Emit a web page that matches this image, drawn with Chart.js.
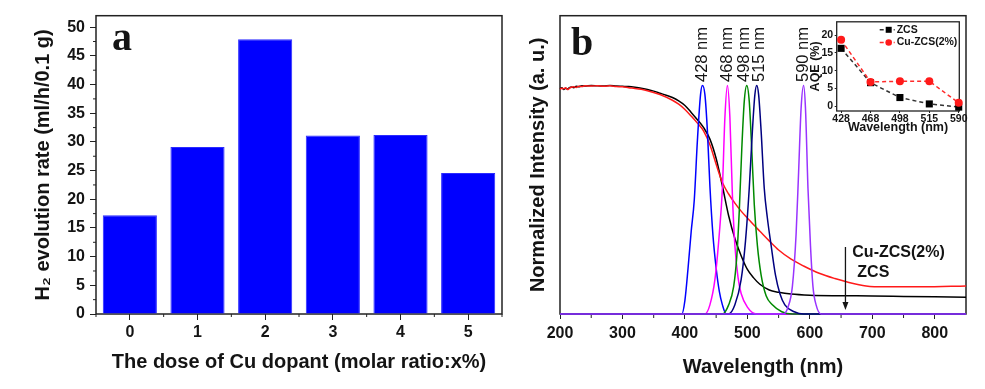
<!DOCTYPE html>
<html>
<head>
<meta charset="utf-8">
<script src="https://cdn.jsdelivr.net/npm/chart.js@4.4.1/dist/chart.umd.min.js"></script>
<style>
    html, body { margin: 0; padding: 0; background: #fff; }
    #wrap { position: relative; width: 985px; height: 389px; overflow: hidden; }
    canvas { position: absolute; }
    #chartA { left: 0; top: 0; }
    #chartB { left: 508px; top: 0; }
    #chartC { left: 790px; top: 14px; }
</style>
</head>
<body>
<div id="wrap">
    <canvas id="chartA" width="508" height="389"></canvas>
    <canvas id="chartB" width="477" height="389"></canvas>
    <canvas id="chartC" width="185" height="126"></canvas>
</div>
<script>
// panel a: H2 evolution vs Cu dose
const doseLabels = ['0', '1', '2', '3', '4', '5'];
const h2Rates = [17.2, 29.1, 47.9, 31.1, 31.2, 24.6];

// panel b: absorption spectra (normalized)
const zcsNm  = [200, 203, 206, 209, 212, 215, 218, 222, 226, 230, 235, 240, 250, 260, 270, 280, 290, 300, 310, 320, 330, 340, 350, 360, 370, 380, 390, 400, 410, 420, 430, 440, 450, 460, 470, 480, 490, 500, 510, 520, 535, 550, 570, 600, 650, 700, 750, 800, 850];
const zcsInt = [0.985, 0.99, 0.982, 0.988, 0.984, 0.99, 0.993, 0.99, 0.996, 0.994, 0.999, 0.997, 1.0, 0.998, 0.997, 1.0, 0.997, 0.996, 0.995, 0.992, 0.988, 0.982, 0.975, 0.966, 0.957, 0.947, 0.932, 0.912, 0.882, 0.85, 0.815, 0.765, 0.68, 0.56, 0.43, 0.33, 0.255, 0.195, 0.158, 0.13, 0.105, 0.095, 0.087, 0.082, 0.08, 0.079, 0.077, 0.075, 0.073];

const cuNm  = [200, 203, 206, 209, 212, 215, 218, 222, 226, 230, 235, 240, 250, 260, 270, 280, 290, 300, 310, 320, 330, 340, 360, 380, 390, 400, 410, 420, 430, 440, 450, 460, 470, 480, 490, 500, 510, 520, 535, 550, 570, 590, 615, 640, 660, 690, 720, 780, 850];
const cuInt = [0.983, 0.988, 0.985, 0.99, 0.982, 0.987, 0.992, 0.994, 0.991, 0.996, 0.995, 0.998, 0.997, 0.999, 0.996, 0.998, 0.995, 0.994, 0.99, 0.987, 0.983, 0.977, 0.96, 0.935, 0.918, 0.895, 0.866, 0.835, 0.8, 0.74, 0.655, 0.575, 0.525, 0.485, 0.45, 0.42, 0.39, 0.362, 0.32, 0.28, 0.24, 0.21, 0.178, 0.155, 0.14, 0.123, 0.119, 0.119, 0.123];

// LED emission spectra
const led428Nm  = [200, 395, 400, 405, 410, 415, 420, 425, 428, 432, 436, 440, 445, 450, 455, 460, 466, 850];
const led428Int = [0, 0, 0.06, 0.2, 0.36, 0.5, 0.76, 0.96, 1.0, 0.96, 0.8, 0.56, 0.34, 0.2, 0.1, 0.04, 0, 0];
const led468Nm  = [200, 432, 440, 448, 455, 460, 464, 468, 472, 476, 480, 485, 490, 500, 515, 850];
const led468Int = [0, 0, 0.04, 0.15, 0.35, 0.55, 0.86, 1.0, 0.86, 0.52, 0.3, 0.16, 0.09, 0.03, 0, 0];
const led498Nm  = [200, 460, 470, 478, 483, 487, 491, 495, 499, 503, 507, 511, 516, 522, 530, 540, 555, 572, 850];
const led498Int = [0, 0, 0.04, 0.12, 0.25, 0.45, 0.72, 0.93, 1.0, 0.93, 0.72, 0.48, 0.3, 0.17, 0.08, 0.04, 0.01, 0, 0];
const led515Nm  = [200, 470, 480, 490, 497, 503, 508, 512, 515, 518, 522, 527, 532, 538, 545, 552, 560, 575, 590, 850];
const led515Int = [0, 0, 0.04, 0.15, 0.32, 0.55, 0.8, 0.96, 1.0, 0.96, 0.8, 0.55, 0.42, 0.3, 0.17, 0.09, 0.04, 0.01, 0, 0];
const led590Nm  = [200, 557, 565, 572, 578, 582, 586, 590, 593, 597, 601, 605, 610, 618, 850];
const led590Int = [0, 0, 0.03, 0.12, 0.35, 0.62, 0.9, 1.0, 0.9, 0.55, 0.3, 0.12, 0.04, 0, 0];

const peakNames = ['428 nm', '468 nm', '498 nm', '515 nm', '590 nm'];

// inset: apparent quantum efficiency
const aqeLabels = ['428', '468', '498', '515', '590'];
const aqeZcs = [16.3, 6.6, 2.4, 0.6, -0.3];
const aqeCu  = [18.7, 6.8, 7.0, 7.0, 0.9];

const SANS = "Arial, 'Liberation Sans', Helvetica, sans-serif";
const SERIF = "'Times New Roman', 'Liberation Serif', serif";
const INK = '#141414';

function pairs(xs, ys)
{
    return xs.map((x, i) => ({ x: x, y: ys[i] }));
}

function placeXY(chart, item)
{
    const a = chart.chartArea;
    if (item.unit === 'area')
    {
        return [a.left + item.x, a.top + item.y];
    }
    return [chart.scales.x.getPixelForValue(item.x), chart.scales.y.getPixelForValue(item.y)];
}

const deco =
{
    id: 'deco',
    beforeDatasetsDraw(chart, args, opts)
    {
        const ctx = chart.ctx;
        const a = chart.chartArea;
        ctx.save();
        ctx.strokeStyle = opts.frameColor || '#222';
        ctx.lineWidth = 1;

        (opts.minorTicks || []).forEach(m =>
        {
            const sc = chart.scales[m.axis];
            m.values.forEach(v =>
            {
                const p = sc.getPixelForValue(v);
                ctx.beginPath();
                if (m.axis === 'x')
                {
                    ctx.moveTo(p, a.bottom);
                    ctx.lineTo(p, a.bottom + m.len);
                }
                else
                {
                    ctx.moveTo(a.left, p);
                    ctx.lineTo(a.left - m.len, p);
                }
                ctx.stroke();
            });
        });

        ctx.lineWidth = opts.frameWidth || 1.5;
        ctx.strokeRect(a.left, a.top, a.width, a.height);
        ctx.restore();
    },
    afterDraw(chart, args, opts)
    {
        const ctx = chart.ctx;
        ctx.save();

        (opts.texts || []).forEach(t =>
        {
            const [px, py] = placeXY(chart, t);
            ctx.save();
            ctx.translate(px, py);
            if (t.angle) ctx.rotate(t.angle);
            ctx.font = t.font;
            ctx.fillStyle = t.color || INK;
            ctx.textAlign = t.align || 'left';
            ctx.textBaseline = t.baseline || 'middle';
            ctx.fillText(t.text, 0, 0);
            ctx.restore();
        });

        (opts.arrows || []).forEach(ar =>
        {
            const x = chart.scales.x.getPixelForValue(ar.x);
            const y0 = chart.scales.y.getPixelForValue(ar.from);
            const y1 = chart.scales.y.getPixelForValue(ar.to);
            ctx.strokeStyle = INK;
            ctx.fillStyle = INK;
            ctx.lineWidth = 1.3;
            ctx.beginPath();
            ctx.moveTo(x, y0);
            ctx.lineTo(x, y1 - 6);
            ctx.stroke();
            ctx.beginPath();
            ctx.moveTo(x, y1);
            ctx.lineTo(x - 3, y1 - 8);
            ctx.lineTo(x + 3, y1 - 8);
            ctx.closePath();
            ctx.fill();
        });

        if (opts.legend)
        {
            const a = chart.chartArea;
            const lg = opts.legend;
            chart.data.datasets.forEach(ds =>
            {
                const row = lg.rows[ds.label];
                const y = a.top + row;
                const mx = a.left + lg.markerX;
                ctx.strokeStyle = ds.borderColor;
                ctx.lineWidth = ds.borderWidth;
                ctx.setLineDash(ds.borderDash || []);
                ctx.beginPath();
                ctx.moveTo(mx - 9, y);
                ctx.lineTo(mx + 6, y);
                ctx.stroke();
                ctx.setLineDash([]);
                ctx.fillStyle = ds.pointBackgroundColor;
                if (ds.pointStyle === 'rect')
                {
                    ctx.fillRect(mx - 3, y - 3, 6, 6);
                }
                else
                {
                    ctx.beginPath();
                    ctx.arc(mx, y, 3.3, 0, Math.PI * 2);
                    ctx.fill();
                }
                ctx.font = lg.font;
                ctx.fillStyle = INK;
                ctx.textAlign = 'left';
                ctx.textBaseline = 'middle';
                ctx.fillText(ds.label, a.left + lg.textX, y);
            });
        }
        ctx.restore();
    }
};

function halfSteps(from, to, step)
{
    const out = [];
    for (let v = from + step / 2; v < to; v += step) out.push(v);
    return out;
}

// ---------------- panel a ----------------
new Chart(document.getElementById('chartA'),
{
    type: 'bar',
    data:
    {
        labels: doseLabels,
        datasets:
        [{
            data: h2Rates,
            backgroundColor: '#0000ff',
            borderColor: '#2b2bff',
            borderWidth: 1,
            categoryPercentage: 0.8,
            barPercentage: 1.0
        }]
    },
    options:
    {
        responsive: false,
        animation: false,
        layout: { padding: { left: 0, top: 15.7, right: 6, bottom: 0 } },
        plugins:
        {
            legend: { display: false },
            tooltip: { enabled: false },
            deco:
            {
                minorTicks:
                [
                    { axis: 'y', values: halfSteps(0, 52, 5), len: 3 },
                    { axis: 'x', values: [-0.5, 0.5, 1.5, 2.5, 3.5, 4.5, 5.5], len: 3 }
                ],
                texts:
                [
                    { text: 'a', unit: 'area', x: 16, y: 34, font: 'bold 40px ' + SERIF, baseline: 'alphabetic' }
                ]
            }
        },
        scales:
        {
            x:
            {
                grid: { drawOnChartArea: false, drawTicks: true, tickLength: 6, offset: false, color: '#222' },
                border: { display: false },
                ticks: { font: { family: SANS, size: 16, weight: 'bold' }, color: INK, padding: 3 },
                title:
                {
                    display: true,
                    text: 'The dose of Cu dopant (molar ratio:x%)',
                    font: { family: SANS, size: 20, weight: 'bold' },
                    color: INK,
                    padding: { top: 0, bottom: 15 }
                },
                afterFit: (s) => { s.height = 75; }
            },
            y:
            {
                min: 0,
                max: 52,
                grid: { drawOnChartArea: false, drawTicks: true, tickLength: 6, color: '#222' },
                border: { display: false },
                ticks: { stepSize: 5, includeBounds: false, font: { family: SANS, size: 16, weight: 'bold' }, color: INK, padding: 5 },
                title:
                {
                    display: true,
                    text: 'H\u2082 evolution rate (ml/h/0.1 g)',
                    font: { family: SANS, size: 20, weight: 'bold' },
                    color: INK,
                    padding: { top: 31, bottom: 0 }
                },
                afterFit: (s) => { s.width = 96; }
            }
        }
    },
    plugins: [deco]
});

// ---------------- panel b ----------------
function spectrum(xs, ys, color, order)
{
    return {
        data: pairs(xs, ys),
        borderColor: color,
        borderWidth: 1.5,
        pointRadius: 0,
        cubicInterpolationMode: 'monotone',
        clip: false,
        order: order
    };
}

new Chart(document.getElementById('chartB'),
{
    type: 'line',
    data:
    {
        datasets:
        [
            spectrum(zcsNm, zcsInt, '#000000', 6),
            spectrum(cuNm, cuInt, '#ff1a1a', 5),
            spectrum(led428Nm, led428Int, '#0000ff', 4),
            spectrum(led468Nm, led468Int, '#ff00ff', 3),
            spectrum(led498Nm, led498Int, '#008a00', 2),
            spectrum(led515Nm, led515Int, '#000080', 1),
            spectrum(led590Nm, led590Int, '#9933ff', 0)
        ]
    },
    options:
    {
        responsive: false,
        animation: false,
        layout: { padding: { left: 0, top: 15.7, right: 19, bottom: 0 } },
        plugins:
        {
            legend: { display: false },
            tooltip: { enabled: false },
            deco:
            {
                minorTicks:
                [
                    { axis: 'x', values: halfSteps(200, 850, 100), len: 4 }
                ],
                texts:
                [
                    { text: 'b', unit: 'area', x: 11, y: 39, font: 'bold 40px ' + SERIF, baseline: 'alphabetic' },
                    { text: peakNames[0], x: 428, y: 1.015, angle: -Math.PI / 2, font: '16.5px ' + SANS },
                    { text: peakNames[1], x: 468, y: 1.015, angle: -Math.PI / 2, font: '16.5px ' + SANS },
                    { text: peakNames[2], x: 496, y: 1.015, angle: -Math.PI / 2, font: '16.5px ' + SANS },
                    { text: peakNames[3], x: 520, y: 1.015, angle: -Math.PI / 2, font: '16.5px ' + SANS },
                    { text: peakNames[4], x: 590, y: 1.015, angle: -Math.PI / 2, font: '16.5px ' + SANS },
                    { text: 'Cu-ZCS(2%)', x: 668, y: 0.267, font: 'bold 16px ' + SANS },
                    { text: 'ZCS', x: 676, y: 0.179, font: 'bold 16px ' + SANS }
                ],
                arrows: [ { x: 657, from: 0.293, to: 0.018 } ]
            }
        },
        scales:
        {
            x:
            {
                type: 'linear',
                min: 200,
                max: 850,
                grid: { drawOnChartArea: false, drawTicks: true, tickLength: 5, color: '#222' },
                border: { display: false },
                ticks: { stepSize: 100, includeBounds: false, font: { family: SANS, size: 16, weight: 'bold' }, color: INK, padding: 5 },
                title:
                {
                    display: true,
                    text: 'Wavelength (nm)',
                    font: { family: SANS, size: 20, weight: 'bold' },
                    color: INK,
                    padding: { top: 0, bottom: 10 }
                },
                afterFit: (s) => { s.height = 75; }
            },
            y:
            {
                min: 0,
                max: 1.305,
                grid: { display: false },
                border: { display: false },
                ticks: { display: false },
                title:
                {
                    display: true,
                    text: 'Normalized Intensity (a. u.)',
                    font: { family: SANS, size: 20, weight: 'bold' },
                    color: INK,
                    padding: { top: 18, bottom: 0 }
                },
                afterFit: (s) => { s.width = 52; }
            }
        }
    },
    plugins: [deco]
});

// ---------------- inset ----------------
new Chart(document.getElementById('chartC'),
{
    type: 'line',
    data:
    {
        datasets:
        [
            {
                label: 'ZCS',
                data: aqeZcs.map((v, i) => ({ x: i, y: v })),
                borderColor: '#333333',
                borderWidth: 1.5,
                borderDash: [4, 3],
                pointStyle: 'rect',
                pointRadius: 5,
                pointBackgroundColor: '#000000',
                pointBorderWidth: 0,
                tension: 0,
                clip: false,
                order: 1
            },
            {
                label: 'Cu-ZCS(2%)',
                data: aqeCu.map((v, i) => ({ x: i, y: v })),
                borderColor: '#ff2a2a',
                borderWidth: 1.5,
                borderDash: [4, 3],
                pointStyle: 'circle',
                pointRadius: 4,
                pointBackgroundColor: '#ff1a1a',
                pointBorderWidth: 0,
                tension: 0,
                clip: false,
                order: 0
            }
        ]
    },
    options:
    {
        responsive: false,
        animation: false,
        layout: { padding: { left: 0, top: 7, right: 15.7, bottom: 0 } },
        plugins:
        {
            legend: { display: false },
            tooltip: { enabled: false },
            deco:
            {
                frameWidth: 1.3,
                legend:
                {
                    markerX: 52,
                    textX: 60,
                    rows: { 'ZCS': 8, 'Cu-ZCS(2%)': 20.7 },
                    font: 'bold 10.5px ' + SANS
                }
            }
        },
        scales:
        {
            x:
            {
                type: 'linear',
                min: -0.15,
                max: 4.02,
                grid: { drawOnChartArea: false, drawTicks: true, tickLength: 2, color: '#222' },
                border: { display: false },
                ticks:
                {
                    stepSize: 1,
                    includeBounds: false,
                    callback: (v) => aqeLabels[v],
                    font: { family: SANS, size: 10.5, weight: 'bold' },
                    color: INK,
                    padding: 0
                },
                title:
                {
                    display: true,
                    text: 'Wavelength (nm)',
                    font: { family: SANS, size: 12.5, weight: 'bold' },
                    color: INK,
                    padding: { top: 0, bottom: 4.8 }
                },
                afterFit: (s) => { s.height = 29; }
            },
            y:
            {
                min: -1.4,
                max: 23.8,
                grid: { drawOnChartArea: false, drawTicks: true, tickLength: 2, color: '#222' },
                border: { display: false },
                ticks: { stepSize: 5, includeBounds: false, font: { family: SANS, size: 10.5, weight: 'bold' }, color: INK, padding: 1.5 },
                title:
                {
                    display: true,
                    text: 'AQE (%)',
                    font: { family: SANS, size: 12.5, weight: 'bold' },
                    color: INK,
                    padding: { top: 18.5, bottom: 0 }
                },
                afterFit: (s) => { s.width = 46.7; }
            }
        }
    },
    plugins: [deco]
});
</script>
</body>
</html>
